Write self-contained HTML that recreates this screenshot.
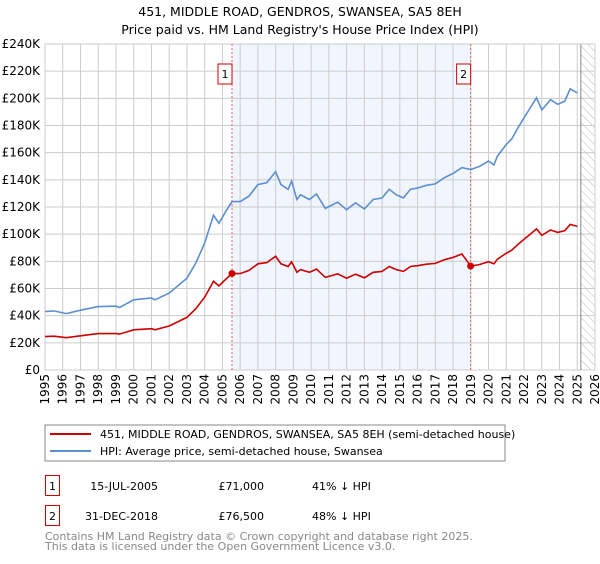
<!DOCTYPE html>
<html><head><meta charset="utf-8"><style>
body{margin:0;background:#fff;font-family:"DejaVu Sans","Liberation Sans",sans-serif;}
svg text{font-family:"DejaVu Sans","Liberation Sans",sans-serif;}
</style></head><body>
<svg id="chart" width="600" height="560" xmlns="http://www.w3.org/2000/svg">
<text x="300" y="16" text-anchor="middle" font-size="12.5">451, MIDDLE ROAD, GENDROS, SWANSEA, SA5 8EH</text>
<text x="300" y="34" text-anchor="middle" font-size="12.5">Price paid vs. HM Land Registry's House Price Index (HPI)</text>
<g id="plot"></g>
<rect x="45" y="425" width="460" height="36" fill="#fff" stroke="#888"/>
<line x1="50" y1="434" x2="91" y2="434" stroke="#cc0000" stroke-width="2"/>
<text x="100" y="438" font-size="11">451, MIDDLE ROAD, GENDROS, SWANSEA, SA5 8EH (semi-detached house)</text>
<line x1="50" y1="451" x2="91" y2="451" stroke="#5b8fd0" stroke-width="2"/>
<text x="100" y="455" font-size="11">HPI: Average price, semi-detached house, Swansea</text>
<rect x="45.5" y="475.5" width="14" height="20" fill="#fff" stroke="#cc0000"/>
<text x="52.5" y="490" text-anchor="middle" font-size="11">1</text>
<text x="158" y="490" text-anchor="end" font-size="11">15-JUL-2005</text>
<text x="264" y="490" text-anchor="end" font-size="11">£71,000</text>
<text x="312" y="490" font-size="11">41% ↓ HPI</text>
<rect x="45.5" y="505.5" width="14" height="20" fill="#fff" stroke="#cc0000"/>
<text x="52.5" y="520" text-anchor="middle" font-size="11">2</text>
<text x="158" y="520" text-anchor="end" font-size="11">31-DEC-2018</text>
<text x="264" y="520" text-anchor="end" font-size="11">£76,500</text>
<text x="312" y="520" font-size="11">48% ↓ HPI</text>
<text x="45" y="540" font-size="11" fill="#888">Contains HM Land Registry data © Crown copyright and database right 2025.</text>
<text x="45" y="550" font-size="11" fill="#888">This data is licensed under the Open Government Licence v3.0.</text>
</svg>
<script>
const years=[1995.0,1995.5,1996.2,1997.0,1998.0,1999.0,1999.2,2000.0,2001.0,2001.2,2002.0,2003.0,2003.5,2004.0,2004.5,2004.8,2005.2,2005.54,2006.0,2006.5,2007.0,2007.5,2008.0,2008.3,2008.7,2008.9,2009.2,2009.4,2009.9,2010.3,2010.8,2011.5,2012.0,2012.5,2013.0,2013.5,2014.0,2014.4,2014.8,2015.2,2015.6,2016.0,2016.5,2017.0,2017.5,2018.0,2018.5,2019.0,2019.5,2020.0,2020.3,2020.5,2021.0,2021.3,2021.6,2022.0,2022.4,2022.7,2023.0,2023.5,2023.9,2024.3,2024.6,2025.0];
const hpi=[43,43.5,41.5,44,46.7,47,46,51.7,53,51.7,56.6,67.6,78.7,93.5,114,108,117,124,124,128,136.5,138,146,136.5,133,139,125.5,129,125.5,129.6,119,123.5,118,123,118.5,125.5,126.7,133,129,126.7,133,134,136,137,141.5,144.7,149,147.6,150,153.8,151,157.5,166,170,177,185.7,194,200.5,191.5,199,195.6,198,207,204];
const paid=[24.6,24.9,23.8,25.2,26.8,26.9,26.4,29.6,30.4,29.6,32.4,38.7,45.1,53.6,65.3,61.9,67.0,71.0,71.0,73.3,78.2,79.1,83.7,78.2,76.2,79.6,71.9,73.9,71.9,74.3,68.2,70.8,67.6,70.5,67.9,71.9,72.6,76.2,73.9,72.6,76.2,76.8,77.9,78.5,81.1,82.9,85.4,76.5,77.7,79.7,78.2,81.6,86.0,88.1,91.7,96.2,100.5,103.9,99.2,103.1,101.3,102.6,107.2,105.7];
const yTicks=[0,20,40,60,80,100,120,140,160,180,200,220,240];
const xTicks=[1995,1996,1997,1998,1999,2000,2001,2002,2003,2004,2005,2006,2007,2008,2009,2010,2011,2012,2013,2014,2015,2016,2017,2018,2019,2020,2021,2022,2023,2024,2025,2026];
const saleYears=[2005.54,2018.99];
const salePrices=[71,76.5];
const saleLabels=["1","2"];
const X0=45,X1=595,Y0=370,Y1=44;
const xs=y=>X0+(y-1995)/(2026-1995)*(X1-X0);
const ys=v=>Y0-v/240*(Y0-Y1);
const NS="http://www.w3.org/2000/svg";
const g=document.getElementById('plot');
function mk(t,a){const e=document.createElementNS(NS,t);for(const k in a)e.setAttribute(k,a[k]);g.appendChild(e);return e;}
let e=mk('rect',{x:xs(saleYears[0]),y:Y1,width:xs(saleYears[1])-xs(saleYears[0]),height:Y0-Y1,fill:'#eef3fc',opacity:0.8});


const defs=document.createElementNS(NS,'defs');defs.innerHTML='<pattern id="hatch" width="6" height="6" patternUnits="userSpaceOnUse" patternTransform="rotate(-45)"><line x1="0" y1="0" x2="0" y2="6" stroke="#bbb" stroke-width="1"/></pattern>';g.appendChild(defs);
e=mk('rect',{x:xs(2025.2),y:Y1,width:X1-xs(2025.2),height:Y0-Y1,fill:'url(#hatch)'});


yTicks.forEach(v=>{
 e=mk('line',{x1:X0,x2:X1,y1:ys(v),y2:ys(v),stroke:'#ccc'});
 
 
 e=mk('text',{x:40,y:ys(v)+4,'text-anchor':'end','font-size':12});e.textContent=v===0?'£0':'£'+v+'K';
 
 
});
xTicks.forEach(v=>{
 e=mk('line',{x1:xs(v),x2:xs(v),y1:Y1,y2:Y0,stroke:'#ccc'});
 
 
 e=mk('text',{x:0,y:0,'text-anchor':'end','font-size':12,transform:`translate(${xs(v)+4},374) rotate(-90)`});e.textContent=v;
 
 
});
e=mk('line',{x1:xs(2025.2),x2:xs(2025.2),y1:Y1,y2:Y0,stroke:'#888'});


e=mk('rect',{x:X0,y:Y1,width:X1-X0,height:Y0-Y1,fill:'none',stroke:'#ccc'});


saleYears.forEach((s,i)=>{
 e=mk('line',{x1:xs(s),x2:xs(s),y1:Y1,y2:Y0,stroke:'#e06060','stroke-dasharray':'2,2'});
 
 
 e=mk('rect',{x:xs(s)-14,y:64,width:14,height:20,fill:'#fff',stroke:'#cc0000'});
 
 
 e=mk('text',{x:xs(s)-7,y:78,'text-anchor':'middle','font-size':11});e.textContent=saleLabels[i];
 
 
});
const pts=a=>years.map((y,i)=>xs(y).toFixed(1)+','+ys(a[i]).toFixed(1)).join(' ');
e=mk('polyline',{points:pts(hpi),fill:'none',stroke:'#5b8fd0','stroke-width':1.6});


e=mk('polyline',{points:pts(paid),fill:'none',stroke:'#cc0000','stroke-width':1.6});


saleYears.forEach((s,i)=>{
 e=mk('circle',{cx:xs(s),cy:ys(salePrices[i]),r:3.5,fill:'#cc0000'});
 
 
});
</script>
</body></html>
